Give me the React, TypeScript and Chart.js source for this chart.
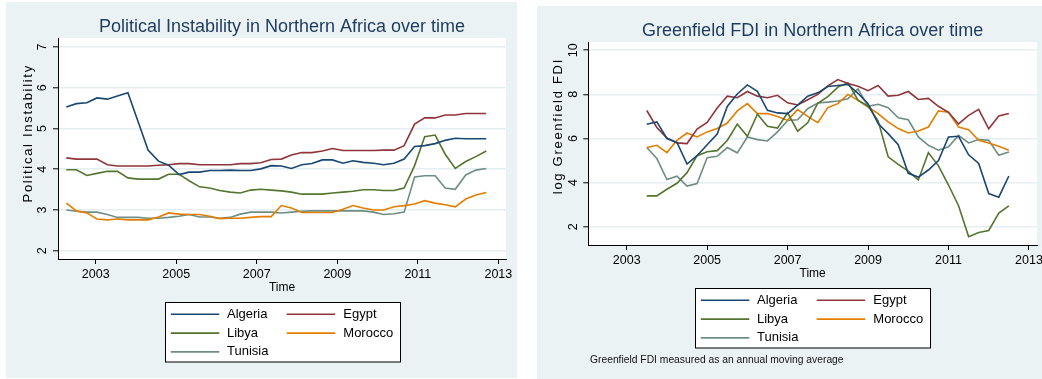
import React, { useEffect, useRef } from 'react';
import { Chart, registerables } from 'chart.js';

Chart.register(...registerables);

const FONT = '"Liberation Sans", Arial, sans-serif';
const PANEL_BG = '#eaf2f3';
const GRID_COLOR = '#e5eef1';
const TITLE_COLOR = '#1e3a5f';

const COUNTRIES = ['Algeria', 'Egypt', 'Libya', 'Morocco', 'Tunisia'];
const COLORS = ['#1a476f', '#90353b', '#55752f', '#e37e00', '#6e8e84'];

const X_TICKS = [2003, 2005, 2007, 2009, 2011, 2013];

// ---------- Political instability (left) ----------
const PI_TIME = [
  2002.27, 2002.52, 2002.78, 2003.03, 2003.29, 2003.54, 2003.8, 2004.05, 2004.3, 2004.56,
  2004.81, 2005.07, 2005.32, 2005.58, 2005.83, 2006.08, 2006.34, 2006.59, 2006.85, 2007.1,
  2007.36, 2007.61, 2007.86, 2008.12, 2008.37, 2008.63, 2008.88, 2009.14, 2009.39, 2009.64,
  2009.9, 2010.15, 2010.41, 2010.66, 2010.92, 2011.17, 2011.43, 2011.68, 2011.93, 2012.19,
  2012.44, 2012.7,
];
const PI_ALGERIA = [
  5.53, 5.61, 5.63, 5.75, 5.72, 5.8, 5.88, 5.18, 4.47, 4.2,
  4.1, 3.87, 3.93, 3.93, 3.97, 3.97, 3.98, 3.97, 3.97, 4.01,
  4.09, 4.08, 4.02, 4.11, 4.14, 4.23, 4.23, 4.15, 4.21, 4.17,
  4.15, 4.11, 4.15, 4.25, 4.56, 4.58, 4.63, 4.71, 4.76, 4.75,
  4.75, 4.75,
];
const PI_EGYPT = [
  4.28, 4.25, 4.25, 4.25, 4.11, 4.08, 4.08, 4.08, 4.08, 4.1,
  4.11, 4.14, 4.14, 4.11, 4.11, 4.11, 4.11, 4.14, 4.14, 4.16,
  4.24, 4.25, 4.35, 4.41, 4.41, 4.45, 4.51, 4.46, 4.46, 4.46,
  4.46, 4.47, 4.47, 4.58, 5.11, 5.26, 5.26, 5.33, 5.33, 5.37,
  5.37, 5.37,
];
const PI_LIBYA = [
  3.99, 3.99, 3.85, 3.9, 3.95, 3.95, 3.79, 3.76, 3.76, 3.76,
  3.88, 3.88, 3.72, 3.57, 3.54, 3.48, 3.44, 3.42, 3.49, 3.51,
  3.49, 3.47, 3.44, 3.39, 3.39, 3.39, 3.42, 3.44, 3.46, 3.5,
  3.5, 3.48, 3.48, 3.54, 4.09, 4.8, 4.84, 4.37, 4.02, 4.19,
  4.31, 4.45,
];
const PI_MOROCCO = [
  3.17, 2.98, 2.93, 2.78, 2.76, 2.78, 2.76, 2.76, 2.76, 2.83,
  2.93, 2.9, 2.89, 2.89, 2.85, 2.79, 2.8, 2.8, 2.82, 2.84,
  2.84, 3.11, 3.05, 2.94, 2.94, 2.94, 2.94, 3.02, 3.11, 3.05,
  3.0, 3.0, 3.08, 3.11, 3.15, 3.23, 3.17, 3.13, 3.08, 3.27,
  3.37, 3.43,
];
const PI_TUNISIA = [
  3.0, 2.97, 2.95, 2.95, 2.89, 2.82, 2.82, 2.82, 2.8, 2.8,
  2.82, 2.85, 2.89, 2.83, 2.83, 2.8, 2.82, 2.9, 2.95, 2.95,
  2.95, 2.93, 2.95, 2.97, 2.98, 2.98, 2.98, 2.98, 2.98, 2.98,
  2.95, 2.89, 2.91, 2.95, 3.81, 3.84, 3.84, 3.54, 3.51, 3.86,
  3.98, 4.02,
];
const PI_Y_TICKS = [2, 3, 4, 5, 6, 7];

// ---------- Greenfield FDI (right) ----------
const FDI_TIME = [
  2003.5, 2003.75, 2004.0, 2004.25, 2004.5, 2004.75, 2005.0, 2005.25, 2005.5, 2005.75,
  2006.0, 2006.25, 2006.5, 2006.75, 2007.0, 2007.25, 2007.5, 2007.75, 2008.0, 2008.25,
  2008.5, 2008.75, 2009.0, 2009.25, 2009.5, 2009.75, 2010.0, 2010.25, 2010.5, 2010.75,
  2011.0, 2011.25, 2011.5, 2011.75, 2012.0, 2012.25, 2012.5,
];
const FDI_ALGERIA = [
  6.65, 6.75, 6.0, 5.82, 4.84, 5.22, 5.72, 6.2, 7.45, 8.02,
  8.43, 8.14, 7.28, 7.16, 7.13, 7.51, 7.92, 8.07, 8.36, 8.4,
  8.45, 8.05, 7.58, 6.68, 6.22, 5.72, 4.42, 4.25, 4.57, 5.0,
  6.07, 6.1, 5.26, 4.87, 3.5, 3.34, 4.3,
];
const FDI_EGYPT = [
  7.27, 6.5, 6.02, 5.8, 5.77, 6.43, 6.73, 7.38, 7.92, 7.85,
  8.13, 7.92, 7.85, 7.96, 7.62, 7.52, 7.76, 8.0, 8.39, 8.67,
  8.49, 8.37, 8.17, 8.4, 7.92, 7.96, 8.13, 7.77, 7.82, 7.46,
  7.19, 6.66, 7.05, 7.32, 6.44, 7.02, 7.13,
];
const FDI_LIBYA = [
  3.4, 3.4, 3.7, 3.97, 4.45, 5.22, 5.4, 5.45, 5.91, 6.65,
  6.1, 7.1, 6.55, 6.47, 7.16, 6.33, 6.71, 7.6, 7.9, 8.33,
  8.53, 7.74, 7.47, 6.8, 5.17, 4.83, 4.52, 4.12, 5.36, 4.76,
  3.89, 2.95, 1.55, 1.74, 1.83, 2.62, 2.94,
];
const FDI_MOROCCO = [
  5.59, 5.69, 5.36, 5.92, 6.25, 6.07, 6.3, 6.45, 6.7, 7.25,
  7.58, 7.13, 7.13, 7.0, 6.82, 7.31, 7.0, 6.72, 7.4, 7.58,
  8.0, 7.73, 7.43, 7.13, 6.75, 6.45, 6.25, 6.34, 6.52, 7.25,
  7.19, 6.52, 6.4, 5.92, 5.8, 5.65, 5.47,
];
const FDI_TUNISIA = [
  5.59, 5.09, 4.14, 4.29, 3.84, 3.96, 5.13, 5.19, 5.59, 5.35,
  6.07, 5.95, 5.89, 6.3, 6.82, 6.85, 7.35, 7.61, 7.65, 7.7,
  7.8, 8.25, 7.46, 7.55, 7.4, 6.94, 6.85, 6.07, 5.69, 5.47,
  5.62, 6.14, 5.8, 5.95, 5.92, 5.24, 5.39,
];
const FDI_Y_TICKS = [2, 4, 6, 8, 10];

type Spec = {
  title: string;
  yTitle: string;
  time: number[];
  series: number[][];
  yTicks: number[];
  xMin: number;
  xMax: number;
  yMin: number;
  yMax: number;
  width: number;
  height: number;
  yWidth: number;
  yTickPad: number;
  padBottom: number;
  yTitleX: number;
  yTitleY: number;
  note?: string;
};

function makeConfig(spec: Spec): any {
  const bgPlugin = {
    id: 'stataBg',
    beforeDraw(chart: any) {
      const { ctx, chartArea: ca, width, height } = chart;
      ctx.save();
      ctx.fillStyle = PANEL_BG;
      ctx.fillRect(0, 0, width, height);
      ctx.fillStyle = '#ffffff';
      ctx.fillRect(ca.left, ca.top, ca.right - ca.left, ca.bottom - ca.top);
      ctx.restore();
    },
  };

  const extrasPlugin = {
    id: 'stataExtras',
    afterDraw(chart: any) {
      const { ctx, chartArea: ca } = chart;
      // y-axis title
      ctx.save();
      ctx.translate(spec.yTitleX, spec.yTitleY);
      ctx.rotate(-Math.PI / 2);
      ctx.font = `13px ${FONT}`;
      (ctx as any).letterSpacing = '1.7px';
      ctx.textAlign = 'center';
      ctx.textBaseline = 'middle';
      ctx.fillStyle = '#000';
      ctx.fillText(spec.yTitle, 0, 0);
      ctx.restore();

      // legend box
      const boxW = 235;
      const boxH = 59.5;
      const left = Math.round((ca.left + ca.right) / 2 - boxW / 2);
      const top = Math.round(ca.bottom + 42.5);
      ctx.save();
      ctx.fillStyle = '#ffffff';
      ctx.fillRect(left, top, boxW, boxH);
      ctx.strokeStyle = '#000';
      ctx.lineWidth = 1;
      ctx.strokeRect(left + 0.5, top + 0.5, boxW, boxH);
      ctx.font = `13px ${FONT}`;
      ctx.textBaseline = 'middle';
      ctx.textAlign = 'left';
      chart.data.datasets.forEach((ds: any, i: number) => {
        const col = i % 2;
        const row = Math.floor(i / 2);
        const cy = top + 12.3 + row * 18.8;
        const sx = left + (col ? 121.7 : 5.8);
        ctx.strokeStyle = ds.borderColor;
        ctx.lineWidth = 1.6;
        ctx.beginPath();
        ctx.moveTo(sx, cy);
        ctx.lineTo(sx + 48.5, cy);
        ctx.stroke();
        ctx.fillStyle = '#000';
        ctx.fillText(ds.label, left + (col ? 178.3 : 62), cy);
      });
      ctx.restore();

      if (spec.note) {
        ctx.save();
        ctx.font = `10.3px ${FONT}`;
        ctx.fillStyle = '#111';
        ctx.textAlign = 'left';
        ctx.textBaseline = 'middle';
        ctx.fillText(spec.note, ca.left + 1.7, top + boxH + 12.5);
        ctx.restore();
      }
    },
  };

  return {
    type: 'line',
    data: {
      datasets: COUNTRIES.map((name, i) => ({
        label: name,
        data: spec.time.map((t, j) => ({ x: t, y: spec.series[i][j] })),
        borderColor: COLORS[i],
        backgroundColor: COLORS[i],
        borderWidth: 1.6,
        pointRadius: 0,
        tension: 0,
        fill: false,
      })),
    },
    options: {
      responsive: false,
      animation: false,
      devicePixelRatio: 1,
      events: [],
      layout: {
        autoPadding: false,
        padding: { left: 0, right: 11, top: 0, bottom: spec.padBottom },
      },
      plugins: {
        legend: { display: false },
        tooltip: { enabled: false },
        title: {
          display: true,
          text: spec.title,
          color: TITLE_COLOR,
          fullSize: false,
          font: { family: FONT, size: 18, weight: 'normal' },
          padding: { top: 14, bottom: 0.4 },
        },
      },
      scales: {
        x: {
          type: 'linear',
          min: spec.xMin,
          max: spec.xMax,
          afterBuildTicks: (s: any) => {
            s.ticks = X_TICKS.map((v) => ({ value: v }));
          },
          afterFit: (s: any) => {
            s.height = 40;
          },
          ticks: {
            callback: (v: any) => String(v),
            font: { family: FONT, size: 12.5 },
            color: '#000',
            padding: 2.7,
            minRotation: 0,
            maxRotation: 0,
            autoSkip: false,
          },
          grid: {
            drawOnChartArea: false,
            drawTicks: true,
            tickLength: 5,
            tickColor: '#000',
            tickWidth: 1,
            color: '#000',
          },
          border: { display: true, color: '#000', width: 1 },
          title: {
            display: true,
            text: 'Time',
            color: '#000',
            font: { family: FONT, size: 12 },
            padding: { top: 0, bottom: 4.5 },
          },
        },
        y: {
          type: 'linear',
          min: spec.yMin,
          max: spec.yMax,
          afterBuildTicks: (s: any) => {
            s.ticks = spec.yTicks.map((v) => ({ value: v }));
          },
          afterFit: (s: any) => {
            s.width = spec.yWidth;
          },
          ticks: {
            callback: (v: any) => String(v),
            font: { family: FONT, size: 12.5 },
            color: '#000',
            padding: spec.yTickPad,
            minRotation: 90,
            maxRotation: 90,
            crossAlign: 'center',
            autoSkip: false,
          },
          grid: {
            drawOnChartArea: true,
            drawTicks: true,
            tickLength: 5,
            color: GRID_COLOR,
            lineWidth: 1.6,
            tickColor: '#000',
            tickWidth: 1,
          },
          border: { display: true, color: '#000', width: 1 },
        },
      },
    },
    plugins: [bgPlugin, extrasPlugin],
  };
}

const LEFT_SPEC: Spec = {
  title: 'Political Instability in Northern Africa over time',
  yTitle: 'Political Instability',
  time: PI_TIME,
  series: [PI_ALGERIA, PI_EGYPT, PI_LIBYA, PI_MOROCCO, PI_TUNISIA],
  yTicks: PI_Y_TICKS,
  xMin: 2002.064,
  xMax: 2013.19,
  yMin: 1.8,
  yMax: 7.22,
  width: 511,
  height: 376,
  yWidth: 52,
  yTickPad: 6.8,
  padBottom: 79,
  yTitleX: 22,
  yTitleY: 131.3,
};

const RIGHT_SPEC: Spec = {
  title: 'Greenfield FDI in Northern Africa over time',
  yTitle: 'log Greenfield FDI',
  time: FDI_TIME,
  series: [FDI_ALGERIA, FDI_EGYPT, FDI_LIBYA, FDI_MOROCCO, FDI_TUNISIA],
  yTicks: FDI_Y_TICKS,
  xMin: 2002.046,
  xMax: 2013.2,
  yMin: 1.17,
  yMax: 10.376,
  width: 511,
  height: 373,
  yWidth: 51.3,
  yTickPad: 3.1,
  padBottom: 94,
  yTitleX: 21.3,
  yTitleY: 120.1,
  note: 'Greenfield FDI measured as an annual moving average',
};

function Panel({ spec, left, top }: { spec: Spec; left: number; top: number }) {
  const ref = useRef<HTMLCanvasElement | null>(null);
  useEffect(() => {
    if (!ref.current) return;
    const chart = new Chart(ref.current, makeConfig(spec));
    return () => chart.destroy();
  }, [spec]);
  return (
    <canvas
      ref={ref}
      width={spec.width}
      height={spec.height}
      style={{ position: 'absolute', left, top, width: spec.width, height: spec.height, display: 'block' }}
    />
  );
}

export default function App() {
  return (
    <div
      style={{
        position: 'absolute',
        left: 0,
        top: 0,
        width: 1042,
        height: 379,
        overflow: 'hidden',
        background: '#ffffff',
      }}
    >
      <Panel spec={LEFT_SPEC} left={6} top={2} />
      <Panel spec={RIGHT_SPEC} left={537} top={6} />
    </div>
  );
}
